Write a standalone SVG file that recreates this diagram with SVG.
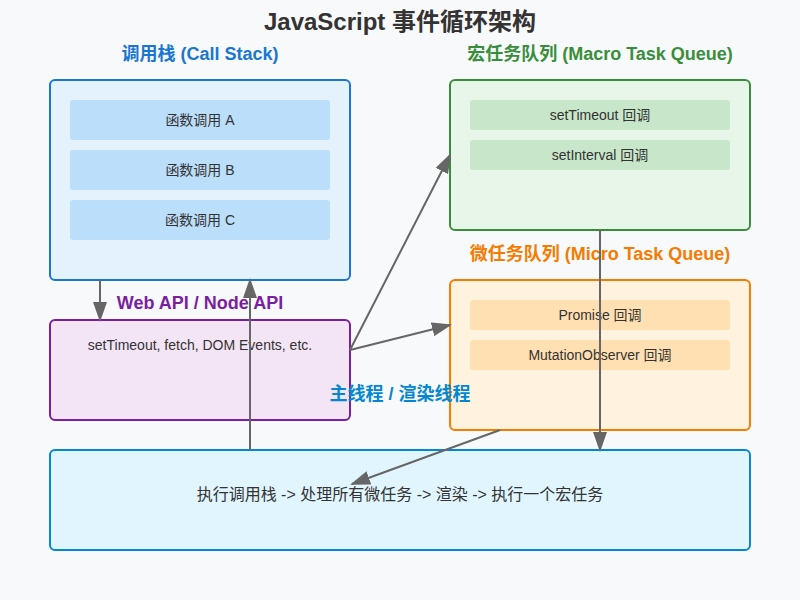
<svg xmlns="http://www.w3.org/2000/svg" width="800" height="600" viewBox="0 0 800 600">
<style>
text{font-family:"Liberation Sans","Noto Sans CJK SC",sans-serif;text-anchor:middle}
.t{font-size:24px;font-weight:bold;fill:#333}
.h{font-size:18px;font-weight:bold}
.i{font-size:14px;fill:#333}
.b{font-size:16px;fill:#333}
.c{fill:none;stroke:#666;stroke-width:2}
</style>
<defs>
<marker id="ah" markerWidth="10" markerHeight="7" refX="9" refY="3.5" orient="auto">
<polygon points="0 0, 10 3.5, 0 7" fill="#666"/>
</marker>
</defs>
<rect width="800" height="600" fill="#f8f9fa"/>
<text class="t" x="400" y="30">JavaScript 事件循环架构</text>
<g id="callstack">
<text class="h" x="200" y="60" fill="#1976d2">调用栈 (Call Stack)</text>
<rect x="50" y="80" width="300" height="200" rx="5" fill="#e3f2fd" stroke="#1976d2" stroke-width="2"/>
<rect x="70" y="100" width="260" height="40" rx="3" fill="#bbdefb"/>
<text class="i" x="200" y="125">函数调用 A</text>
<rect x="70" y="150" width="260" height="40" rx="3" fill="#bbdefb"/>
<text class="i" x="200" y="175">函数调用 B</text>
<rect x="70" y="200" width="260" height="40" rx="3" fill="#bbdefb"/>
<text class="i" x="200" y="225">函数调用 C</text>
</g>
<g id="macro">
<text class="h" x="600" y="60" fill="#388e3c">宏任务队列 (Macro Task Queue)</text>
<rect x="450" y="80" width="300" height="150" rx="5" fill="#e8f5e9" stroke="#388e3c" stroke-width="2"/>
<rect x="470" y="100" width="260" height="30" rx="3" fill="#c8e6c9"/>
<text class="i" x="600" y="120">setTimeout 回调</text>
<rect x="470" y="140" width="260" height="30" rx="3" fill="#c8e6c9"/>
<text class="i" x="600" y="160">setInterval 回调</text>
</g>
<g id="micro">
<text class="h" x="600" y="260" fill="#f57c00">微任务队列 (Micro Task Queue)</text>
<rect x="450" y="280" width="300" height="150" rx="5" fill="#fff3e0" stroke="#f57c00" stroke-width="2"/>
<rect x="470" y="300" width="260" height="30" rx="3" fill="#ffe0b2"/>
<text class="i" x="600" y="320">Promise 回调</text>
<rect x="470" y="340" width="260" height="30" rx="3" fill="#ffe0b2"/>
<text class="i" x="600" y="360">MutationObserver 回调</text>
</g>
<g id="webapi">
<text class="h" x="200" y="309" fill="#7b1fa2">Web API / Node API</text>
<rect x="50" y="320" width="300" height="100" rx="5" fill="#f3e5f5" stroke="#7b1fa2" stroke-width="2"/>
<text class="i" x="200" y="350">setTimeout, fetch, DOM Events, etc.</text>
</g>
<g id="eventloop">
<rect x="50" y="450" width="700" height="100" rx="5" fill="#e1f5fe" stroke="#0288d1" stroke-width="2"/>
<text class="b" x="400" y="500">执行调用栈 -&gt; 处理所有微任务 -&gt; 渲染 -&gt; 执行一个宏任务</text>
</g>
<g id="connectors">
<line class="c" x1="100" y1="280" x2="100" y2="320" marker-end="url(#ah)"/>
<line class="c" x1="250" y1="450" x2="250" y2="280" marker-end="url(#ah)"/>
<line class="c" x1="350" y1="350" x2="450" y2="155" marker-end="url(#ah)"/>
<line class="c" x1="350" y1="350" x2="450" y2="325" marker-end="url(#ah)"/>
<line class="c" x1="600" y1="230" x2="600" y2="450" marker-end="url(#ah)"/>
<line class="c" x1="500" y1="430" x2="352" y2="484" marker-end="url(#ah)"/>
</g>
<text class="h" x="400" y="400" fill="#0288d1">主线程 / 渲染线程</text>
</svg>
